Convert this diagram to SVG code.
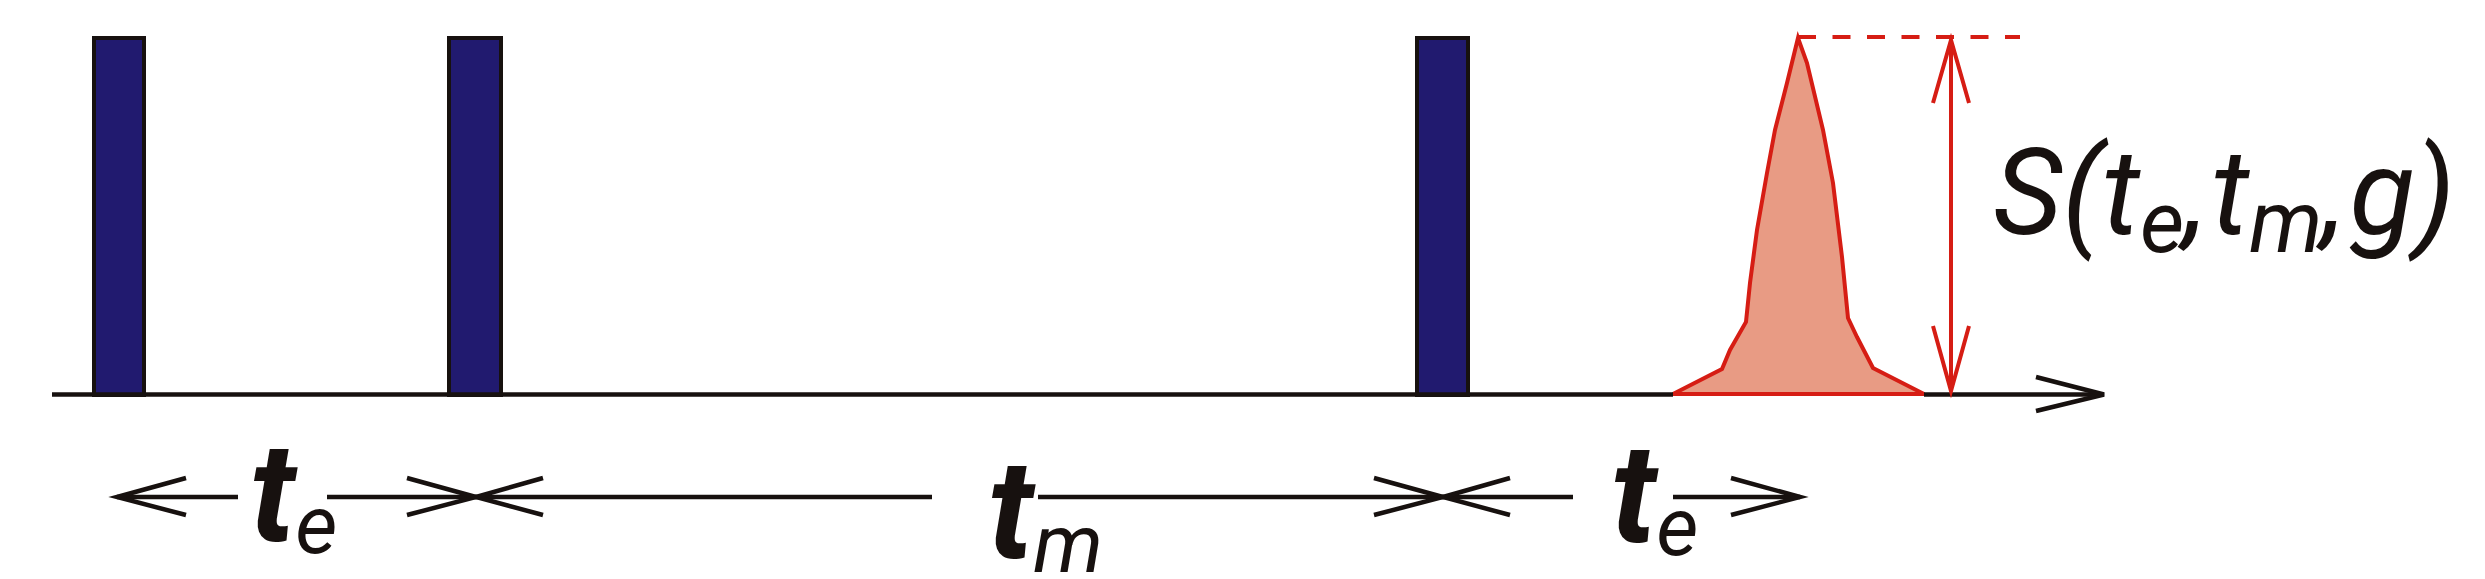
<svg xmlns="http://www.w3.org/2000/svg" width="2485" height="579" viewBox="0 0 2485 579">
<style>
.pulse{fill:#211a6f;stroke:#17110f;stroke-width:4}
.blk{fill:none;stroke:#17110f;stroke-width:4.5;stroke-linecap:butt;stroke-linejoin:miter}
.red{fill:none;stroke:#d61d14;stroke-width:4;stroke-linejoin:miter}
.lbl{font-family:Roboto,"Liberation Sans","DejaVu Sans",sans-serif;font-style:italic;fill:#17110f}
.main{font-size:120px}
.sub{font-size:86px}
.bt{font-size:138px;font-weight:bold}
.bs{font-size:82px}
</style>
<rect width="2485" height="579" fill="#ffffff"/>
<g id="pulse1"><rect class="pulse" x="94" y="38" width="50" height="357"/></g>
<g id="pulse2"><rect class="pulse" x="449" y="38" width="52" height="357"/></g>
<g id="pulse3"><rect class="pulse" x="1417" y="38" width="51" height="357"/></g>
<g id="echo">
<polygon points="1673,394 1722,369 1730,350 1746,322 1750,283 1757,230 1767,173 1775,130 1787,83 1798,38 1807,63 1823,130 1833,183 1842,257 1848,318 1857,337 1873,368 1924,394" fill="#e89b84" stroke="#d61d14" stroke-width="4" stroke-linejoin="miter"/>
</g>
<g id="connectors">
<line class="blk" x1="52" y1="394.5" x2="1673" y2="394.5"/>
<line class="blk" x1="1924" y1="394.5" x2="2104" y2="394.5"/>
<polyline class="blk" points="2036,377 2104,394.5 2036,411"/>
<line class="red" x1="1673" y1="394" x2="1924" y2="394"/>
<line class="red" x1="1798" y1="37" x2="2020" y2="37" stroke-dasharray="18 16.5"/>
<line class="red" x1="1951" y1="40" x2="1951" y2="391"/>
<polyline class="red" points="1933,103 1951,40 1969,103"/>
<polyline class="red" points="1933,326 1951,391 1969,326"/>
<line class="blk" x1="117" y1="497" x2="238" y2="497"/>
<polyline class="blk" points="186,478 117,497 186,515"/>
<line class="blk" x1="327" y1="497" x2="476" y2="497"/>
<polyline class="blk" points="407,478 476,497 407,515"/>
<line class="blk" x1="476" y1="497" x2="932" y2="497"/>
<polyline class="blk" points="543,478 476,497 543,515"/>
<line class="blk" x1="1038" y1="497" x2="1573" y2="497"/>
<polyline class="blk" points="1374,478 1443,497 1374,515"/>
<polyline class="blk" points="1510,478 1443,497 1510,515"/>
<line class="blk" x1="1673" y1="497" x2="1800" y2="497"/>
<polyline class="blk" points="1731,478 1800,497 1731,515"/>
</g>
<g id="label-signal">
<text class="lbl main" x="1993" y="234">S(t<tspan class="sub" dy="18">e</tspan><tspan dy="-18">,</tspan><tspan dx="4">t</tspan><tspan class="sub" dy="18">m</tspan><tspan dy="-18">,</tspan><tspan dx="4">g)</tspan></text>
</g>
<g id="label-te1"><text class="lbl" x="250" y="541"><tspan class="bt">t</tspan><tspan class="bs" dy="12">e</tspan></text></g>
<g id="label-tm"><text class="lbl" x="988" y="558"><tspan class="bt">t</tspan><tspan class="bs" dy="14">m</tspan></text></g>
<g id="label-te2"><text class="lbl" x="1611" y="542"><tspan class="bt">t</tspan><tspan class="bs" dy="13">e</tspan></text></g>
</svg>
